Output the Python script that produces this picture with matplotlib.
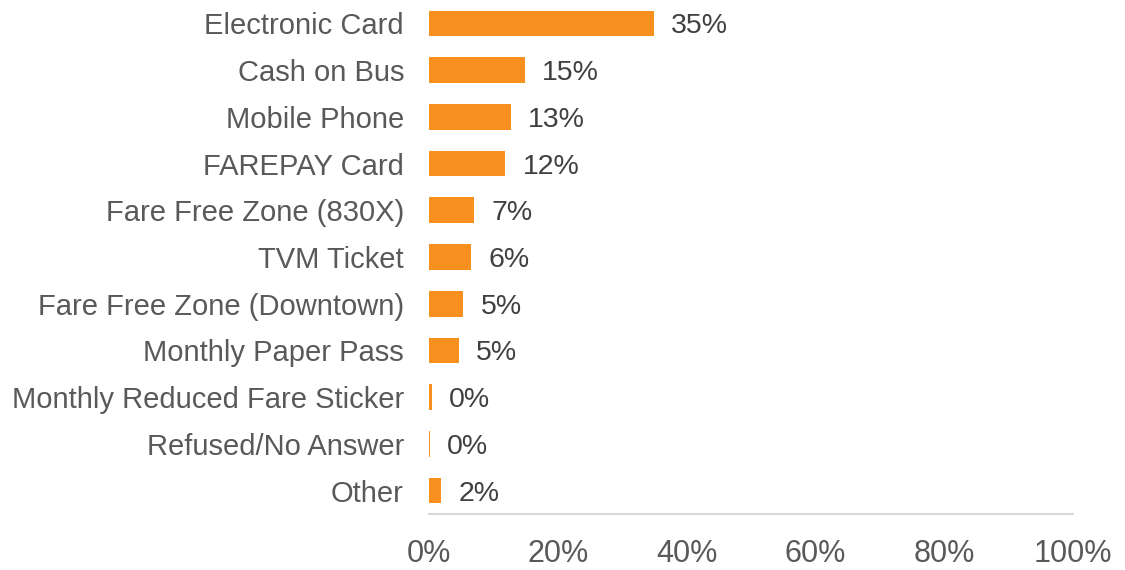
import matplotlib
matplotlib.use("Agg")
import matplotlib.pyplot as plt
from matplotlib import font_manager

categories = ["Electronic Card", "Cash on Bus", "Mobile Phone", "FAREPAY Card",
              "Fare Free Zone (830X)", "TVM Ticket", "Fare Free Zone (Downtown)",
              "Monthly Paper Pass", "Monthly Reduced Fare Sticker",
              "Refused/No Answer", "Other"]
values = [34.9, 14.9, 12.7, 11.8, 7.0, 6.5, 5.3, 4.6, 0.4, 0.1, 1.9]
value_labels = ["35%", "15%", "13%", "12%", "7%", "6%", "5%", "5%", "0%", "0%", "2%"]
xticks = [0, 20, 40, 60, 80, 100]
xtick_labels = ["0%", "20%", "40%", "60%", "80%", "100%"]

names = {f.name for f in font_manager.fontManager.ttflist}
main_font = "Liberation Sans" if "Liberation Sans" in names else "DejaVu Sans"

fig = plt.figure(figsize=(11.25, 5.7), dpi=100)
ax = fig.add_axes([429 / 1125, 1 - 514 / 570, (1073 - 429) / 1125, 514 / 570])

orange = "#F7901E"
y = list(range(len(categories)))
ax.barh(y, values, height=0.55, color=orange)
ax.set_ylim(len(categories) - 0.5, -0.5)
ax.set_xlim(0, 100)

for yi, v, lab in zip(y, values, value_labels):
    ax.text(v + 2.7, yi, lab, va="center_baseline", ha="left", fontsize=20.5,
            color="#404040", family=main_font)

ax.set_yticks(y)
ax.set_yticklabels(categories, fontsize=21, color="#595959", family=main_font,
                   va="center_baseline")
ax.set_xticks(xticks)
ax.set_xticklabels(xtick_labels, fontsize=22, color="#595959", family=main_font)
ax.tick_params(axis="both", length=0)
ax.tick_params(axis="y", pad=18)
ax.tick_params(axis="x", pad=18)

for s in ["top", "right", "left"]:
    ax.spines[s].set_visible(False)
ax.spines["bottom"].set_color("#D9D9D9")
ax.spines["bottom"].set_linewidth(1.5)

fig.savefig("out.png", dpi=100)
